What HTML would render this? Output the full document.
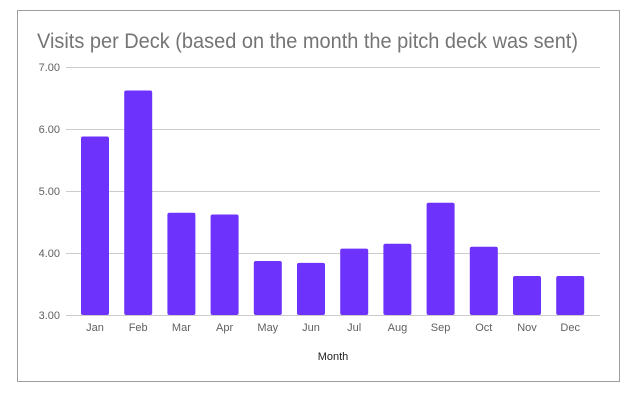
<!DOCTYPE html>
<html><head><style>body{margin:0;background:#fff;width:640px;height:404px;overflow:hidden}</style></head>
<body>
<svg width="640" height="404" xmlns="http://www.w3.org/2000/svg" font-family="Liberation Sans, sans-serif">
<rect x="17.5" y="10.5" width="602" height="371" fill="#fff" stroke="#9e9e9e" stroke-width="1"/>
<text x="37" y="48" font-size="21" fill="#757575" textLength="541" lengthAdjust="spacingAndGlyphs">Visits per Deck (based on the month the pitch deck was sent)</text>
<g stroke="#cccccc" stroke-width="1">
<line x1="66" x2="600" y1="67.5" y2="67.5"/>
<line x1="66" x2="600" y1="129.5" y2="129.5"/>
<line x1="66" x2="600" y1="191.5" y2="191.5"/>
<line x1="66" x2="600" y1="253.5" y2="253.5"/>
<line x1="66" x2="600" y1="315.5" y2="315.5"/>
</g>
<g font-size="11" fill="#616161" text-anchor="end">
<text x="60" y="71">7.00</text>
<text x="60" y="133">6.00</text>
<text x="60" y="195">5.00</text>
<text x="60" y="257">4.00</text>
<text x="60" y="319">3.00</text>
</g>
<g fill="#6d33fd" id="bars"></g>
<g font-size="11" fill="#616161" text-anchor="middle" id="labs"></g>
<text x="333" y="360" font-size="11" fill="#222" text-anchor="middle">Month</text>
<script>
var v=[5.88,6.62,4.65,4.62,3.87,3.84,4.07,4.15,4.81,4.10,3.63,3.63];
var m=["Jan","Feb","Mar","Apr","May","Jun","Jul","Aug","Sep","Oct","Nov","Dec"];
var b=document.getElementById("bars"),l=document.getElementById("labs"),ns="http://www.w3.org/2000/svg";
for(var i=0;i<12;i++){var c=95+i*43.2;var y=315-(v[i]-3)*62;
var r=document.createElementNS(ns,"rect");r.setAttribute("x",c-14);r.setAttribute("y",y);r.setAttribute("width",28);r.setAttribute("height",315-y);r.setAttribute("rx",2);b.appendChild(r);
var t=document.createElementNS(ns,"text");t.setAttribute("x",c);t.setAttribute("y",331);t.textContent=m[i];l.appendChild(t);}
</script>
</svg>
</body></html>
